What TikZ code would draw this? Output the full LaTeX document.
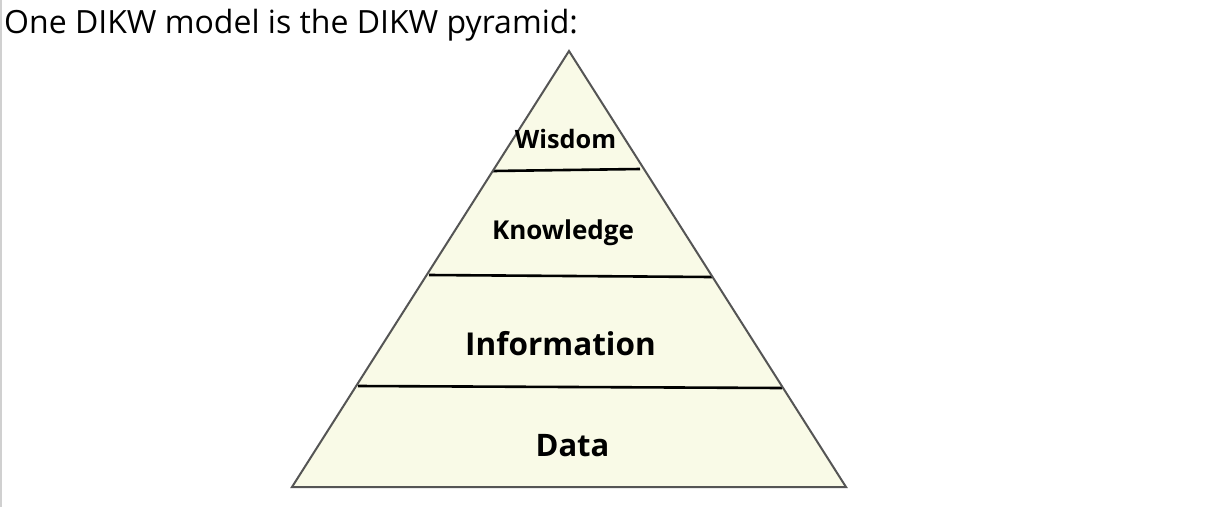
\documentclass[tikz,border=0pt]{standalone}
\usepackage{fontspec}
\setmainfont{Open Sans}
\definecolor{pyrfill}{HTML}{F9FAE7}
\definecolor{pyredge}{HTML}{555555}
\definecolor{sideline}{HTML}{D0D0D0}
\tikzset{
  layerline/.style={draw=black, line width=2.6pt},
  pyroutline/.style={draw=pyredge, line width=2pt, line join=miter},
  lbl/.style={inner sep=0pt, anchor=base, font=\bfseries},
}
\begin{document}
\begin{tikzpicture}[x=1pt,y=-1pt]
\useasboundingbox (0,0) rectangle (1219,507);
\fill[white] (0,0) rectangle (1219,507);
\draw[sideline, line width=1.5pt] (0.75,0) -- (0.75,507);
\node[inner sep=0pt, anchor=base west, font=\fontsize{32}{38}\selectfont] (title) at (4,33) {One DIKW model is the DIKW pyramid:};
\coordinate (apex) at (569,51);
\coordinate (bl) at (292,487);
\coordinate (br) at (846,487);
\fill[pyrfill] (apex) -- (br) -- (bl) -- cycle;
\coordinate (w1) at (493,171);
\coordinate (w2) at (640,169);
\coordinate (k1) at (429,275);
\coordinate (k2) at (712,277);
\coordinate (i1) at (358,386);
\coordinate (i2) at (782,388);
\draw[layerline] (w1) -- (w2);
\draw[layerline] (k1) -- (k2);
\draw[layerline] (i1) -- (i2);
\draw[pyroutline] (apex) -- (br) -- (bl) -- cycle;
\node[lbl, font=\bfseries\fontsize{25.3}{30}\selectfont] (wisdom) at (565.5,148) {Wisdom};
\node[lbl, font=\bfseries\fontsize{26}{30}\selectfont] (knowledge) at (563,239) {Knowledge};
\node[lbl, font=\bfseries\fontsize{31.5}{36}\selectfont] (information) at (560.5,355) {Information};
\node[lbl, font=\bfseries\fontsize{31}{36}\selectfont] (data) at (572.5,456) {Data};
\end{tikzpicture}
\end{document}
